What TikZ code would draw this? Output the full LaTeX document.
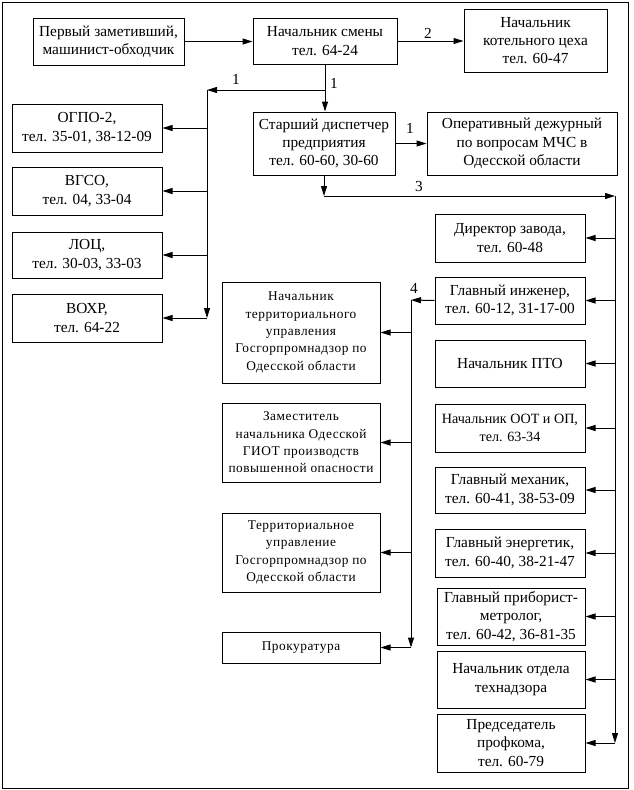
\documentclass[tikz,border=0pt]{standalone}
\usepackage{fontspec}
\setmainfont{Liberation Serif}
\newfontfamily\spacedfont[LetterSpace=4]{Liberation Serif}
\usetikzlibrary{arrows.meta}
\tikzset{
 box/.style={draw, line width=0.75pt, inner sep=0pt, align=center, font=\fontsize{11.5}{13.8}\selectfont},
 sbox/.style={box, font=\spacedfont\fontsize{10}{13}\selectfont},
 nbox/.style={box, font=\fontsize{10.6}{13.8}\selectfont},
 arr/.style={line width=0.75pt, -{Triangle[length=7.5pt,width=4.5pt]}},
 ln/.style={line width=0.75pt},
 lbl/.style={font=\fontsize{11.5}{13.8}\selectfont, inner sep=0pt},
}
\newcommand\mkbox[7]{\node[#1, minimum width={(#5-#3)*0.75pt}, minimum height={(#6-#4)*0.75pt}] (#2) at ({(#3+#5)/2},{(#4+#6)/2}) {#7};}
\begin{document}
\begin{tikzpicture}[x=0.75pt,y=-0.75pt]
\useasboundingbox (0,0) rectangle (633,790);
\draw[ln] (2,2) rectangle (628,788);
% top row
\mkbox{box}{first}{33}{18}{184}{65}{Первый заметивший,\\машинист-обходчик}
\mkbox{box}{smena}{253}{18}{397}{64}{Начальник смены\\тел. 64-24}
\mkbox{box}{kotel}{464}{9}{607}{72}{Начальник\\котельного цеха\\тел. 60-47}
\mkbox{box}{disp}{253}{112}{395}{175}{Старший диспетчер\\предприятия\\тел. 60-60, 30-60}
\mkbox{box}{oper}{427}{112}{617}{175}{Оперативный дежурный\\по вопросам МЧС в\\Одесской области}
% left column
\mkbox{box}{ogpo}{12}{104}{162}{152}{ОГПО-2,\\тел. 35-01, 38-12-09}
\mkbox{box}{vgso}{12}{167}{162}{215}{ВГСО,\\тел. 04, 33-04}
\mkbox{box}{loc}{12}{232}{162}{278}{ЛОЦ,\\тел. 30-03, 33-03}
\mkbox{box}{vohr}{12}{294}{162}{342}{ВОХР,\\тел. 64-22}
% right column
\mkbox{box}{dir}{435}{214}{585}{262}{Директор завода,\\тел. 60-48}
\mkbox{box}{ing}{435}{277}{585}{324}{Главный инженер,\\тел. 60-12, 31-17-00}
\mkbox{box}{pto}{435}{340}{585}{387}{Начальник ПТО}
\mkbox{nbox}{oot}{435}{404}{585}{452}{Начальник ООТ и ОП,\\тел. 63-34}
\mkbox{box}{meh}{435}{467}{585}{513}{Главный механик,\\тел. 60-41, 38-53-09}
\mkbox{box}{energ}{435}{529}{585}{577}{Главный энергетик,\\тел. 60-40, 38-21-47}
\mkbox{box}{prib}{437}{588}{585}{645}{Главный приборист-\\метролог,\\тел. 60-42, 36-81-35}
\mkbox{box}{tehn}{437}{651}{585}{708}{Начальник отдела\\технадзора}
\mkbox{box}{prof}{437}{714}{585}{772}{Председатель\\профкома,\\тел. 60-79}
% middle column
\mkbox{sbox}{ggpn}{222}{282}{380}{383}{Начальник\\территориального\\управления\\Госгорпромнадзор по\\Одесской области}
\mkbox{sbox}{giot}{222}{403}{380}{482}{Заместитель\\начальника Одесской\\ГИОТ производств\\повышенной опасности}
\mkbox{sbox}{terr}{222}{513}{380}{592}{Территориальное\\управление\\Госгорпромнадзор по\\Одесской области}
\mkbox{sbox}{prok}{222}{632}{380}{663}{Прокуратура}
% junction coordinates
\coordinate (j1) at (325,90);
\coordinate (lc) at (207,90);
\coordinate (j3) at (324,196);
\coordinate (rc) at (615,196);
\coordinate (mc) at (411,300);
% connectors
\draw[arr] (first.east) -- (first.east -| smena.west);
\draw[arr] (smena.east) -- (smena.east -| kotel.west);
\draw[arr] (smena.south) -- (smena.south |- disp.north);
\draw[arr] (j1) -- (lc);
\draw[arr] (lc) -- (lc |- vohr.east);
\foreach \n in {ogpo,vgso,loc,vohr} \draw[arr] (lc |- \n.east) -- (\n.east);
\draw[arr] (disp.east) -- (disp.east -| oper.west);
\draw[arr] (disp.south) -- (j3);
\draw[arr] (j3) -- (rc);
\draw[arr] (rc) -- (rc |- prof.east);
\foreach \n in {dir,ing,pto,oot,meh,energ,prib,tehn,prof} \draw[arr] (rc |- \n.east) -- (\n.east);
\draw[arr] (ing.west) -- (mc);
\draw[arr] (mc) -- (mc |- prok.east);
\foreach \n in {ggpn,giot,terr,prok} \draw[arr] (mc |- \n.east) -- (\n.east);
% labels
\node[lbl] (l1a) at (236,79) {1};
\node[lbl] (l1b) at (334,83) {1};
\node[lbl] (l2) at (428,33) {2};
\node[lbl] (l1c) at (410,128) {1};
\node[lbl] (l3) at (419,186) {3};
\node[lbl] (l4) at (414,288) {4};
\end{tikzpicture}
\end{document}
